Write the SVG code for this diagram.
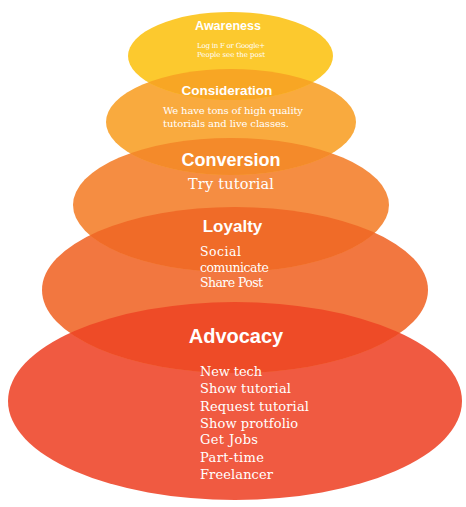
<svg xmlns="http://www.w3.org/2000/svg" width="466" height="507" viewBox="0 0 466 507">
<style>
.t{font-family:"Liberation Sans",Arial,sans-serif;font-weight:bold;fill:#fff;text-anchor:middle}
.b{font-family:"DejaVu Serif","Liberation Serif",serif;fill:#fff}
</style>
<defs>
<clipPath id="cA"><ellipse cx="230.5" cy="56" rx="102.5" ry="44"/></clipPath>
<clipPath id="cC"><ellipse cx="231" cy="122" rx="125" ry="53"/></clipPath>
<clipPath id="cV"><ellipse cx="231" cy="205" rx="158" ry="67"/></clipPath>
<clipPath id="cL"><ellipse cx="235" cy="290" rx="193" ry="83"/></clipPath>
</defs>
<rect width="466" height="507" fill="#fff"/>
<g id="advocacy">
<ellipse cx="235" cy="401" rx="227" ry="99" fill="#F05A41"/>
</g>
<g id="loyalty">
<ellipse cx="235" cy="290" rx="193" ry="83" fill="#F27740"/>
</g>
<g id="conversion">
<ellipse cx="231" cy="205" rx="158" ry="67" fill="#F58D42"/>
</g>
<g id="consideration">
<ellipse cx="231" cy="122" rx="125" ry="53" fill="#F9AA3E"/>
</g>
<g id="awareness">
<ellipse cx="230.5" cy="56" rx="102.5" ry="44" fill="#FCC92E"/>
</g>
<g id="overlaps">
<ellipse cx="231" cy="122" rx="125" ry="53" fill="#F8A624" clip-path="url(#cA)"/>
<ellipse cx="231" cy="205" rx="158" ry="67" fill="#F48A2A" clip-path="url(#cC)"/>
<ellipse cx="235" cy="290" rx="193" ry="83" fill="#F06B28" clip-path="url(#cV)"/>
<ellipse cx="235" cy="401" rx="227" ry="99" fill="#EE4B27" clip-path="url(#cL)"/>
</g>
<g id="awareness-text">
<text class="t" x="228" y="30" font-size="12.5">Awareness</text>
<text class="b" x="197" y="48" font-size="7" textLength="68">Log in F or Google+</text>
<text class="b" x="197" y="57" font-size="7" textLength="68">People see the post</text>
</g>
<g id="consideration-text">
<text class="t" x="227" y="95" font-size="13.5">Consideration</text>
<text class="b" x="163" y="114" font-size="10" textLength="140">We have tons of high quality</text>
<text class="b" x="163" y="127" font-size="10" textLength="126">tutorials and live classes.</text>
</g>
<g id="conversion-text">
<text class="t" x="231" y="166" font-size="18">Conversion</text>
<text class="b" x="188" y="189" font-size="14.5" textLength="86">Try tutorial</text>
</g>
<g id="loyalty-text">
<text class="t" x="232.5" y="232" font-size="17">Loyalty</text>
<text class="b" x="200" y="256" font-size="12.5" textLength="41">Social</text>
<text class="b" x="200" y="272" font-size="12.5" textLength="69">comunicate</text>
<text class="b" x="200" y="287" font-size="12.5" textLength="63">Share Post</text>
</g>
<g id="advocacy-text">
<text class="t" x="236" y="343" font-size="20">Advocacy</text>
<text class="b" x="200" y="376" font-size="13" textLength="62">New tech</text>
<text class="b" x="200" y="393" font-size="13" textLength="91">Show tutorial</text>
<text class="b" x="200" y="411" font-size="13" textLength="109">Request tutorial</text>
<text class="b" x="200" y="428" font-size="13" textLength="98">Show protfolio</text>
<text class="b" x="200" y="444" font-size="13" textLength="58">Get Jobs</text>
<text class="b" x="200" y="462" font-size="13" textLength="64">Part-time</text>
<text class="b" x="200" y="479" font-size="13" textLength="73">Freelancer</text>
</g>
</svg>
